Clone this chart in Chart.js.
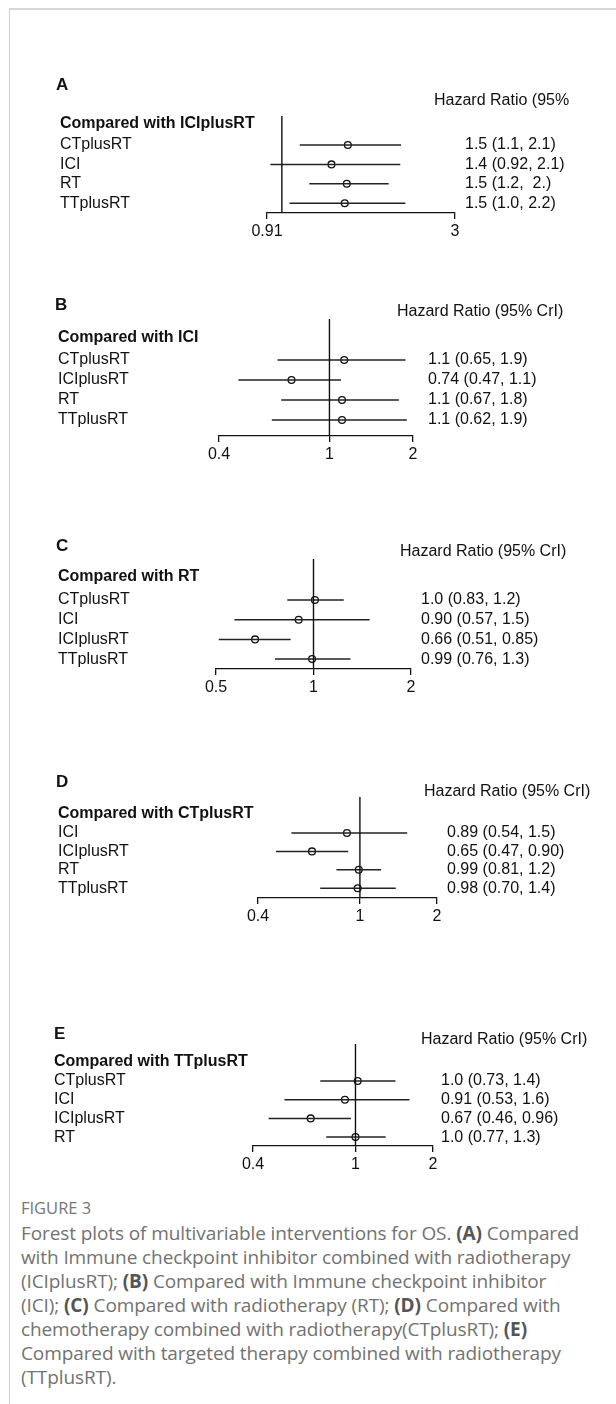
<!DOCTYPE html>
<html lang="en">
<head>
<meta charset="UTF-8" />
<title>Figure 3 - forest plots</title>
<script src="https://cdn.jsdelivr.net/npm/chart.js@4.4.0/dist/chart.umd.min.js"></script>
<style>
*{box-sizing:border-box}
body{margin:0;background:#fff}
#page{position:relative;width:616px;height:1404px;overflow:hidden;background:#fff}
#frame{position:absolute;left:9px;top:8px;right:-2px;bottom:-2px;border-top:2px solid #d6d6d6;border-left:1px solid #cfcfcf}
canvas{position:absolute;left:0}
#cap{position:absolute;left:21px;top:1196px;font-family:"Open Sans",sans-serif;color:#727272}
#cap .fig{font-size:16.5px;line-height:24px;color:#777}
#cap .txt{font-size:19px;line-height:24px;margin-top:1px;white-space:nowrap;letter-spacing:-.1px}
#cap b{font-weight:700;color:#555}
</style>
</head>
<body>
<div id="page">
  <div id="frame"></div>
  <div id="cap">
    <div class="fig">FIGURE 3</div>
    <div class="txt">Forest plots of multivariable interventions for OS. <b>(A)</b> Compared<br>with Immune checkpoint inhibitor combined with radiotherapy<br>(ICIplusRT); <b>(B)</b> Compared with Immune checkpoint inhibitor<br>(ICI); <b>(C)</b> Compared with radiotherapy (RT); <b>(D)</b> Compared with<br>chemotherapy combined with radiotherapy(CTplusRT); <b>(E)</b><br>Compared with targeted therapy combined with radiotherapy<br>(TTplusRT).</div>
  </div>
</div>

<script>
/* ---------- data ---------- */
const letters  = ['A','B','C','D','E'];
const refArms  = ['ICIplusRT','ICI','RT','CTplusRT','TTplusRT'];
const hrTitles = ['Hazard Ratio (95%','Hazard Ratio (95% CrI)','Hazard Ratio (95% CrI)','Hazard Ratio (95% CrI)','Hazard Ratio (95% CrI)'];

// A: compared with ICIplusRT
const armsA = ['CTplusRT','ICI','RT','TTplusRT'];
const hrA   = [1.52, 1.37, 1.51, 1.49];
const loA   = [1.12, 0.93, 1.19, 1.05];
const hiA   = [2.13, 2.12, 1.97, 2.19];
const txtA  = ['1.5 (1.1, 2.1)','1.4 (0.92, 2.1)','1.5 (1.2,  2.)','1.5 (1.0, 2.2)'];
const tickA = [0.91, 3];
const tlabA = ['0.91','3'];

// B: compared with ICI
const armsB = ['CTplusRT','ICIplusRT','RT','TTplusRT'];
const hrB   = [1.13, 0.73, 1.11, 1.11];
const loB   = [0.65, 0.47, 0.67, 0.62];
const hiB   = [1.88, 1.10, 1.78, 1.90];
const txtB  = ['1.1 (0.65, 1.9)','0.74 (0.47, 1.1)','1.1 (0.67, 1.8)','1.1 (0.62, 1.9)'];
const tickB = [0.4, 1, 2];
const tlabB = ['0.4','1','2'];

// C: compared with RT
const armsC = ['CTplusRT','ICI','ICIplusRT','TTplusRT'];
const hrC   = [1.01, 0.90, 0.66, 0.99];
const loC   = [0.83, 0.57, 0.51, 0.76];
const hiC   = [1.24, 1.49, 0.85, 1.30];
const txtC  = ['1.0 (0.83, 1.2)','0.90 (0.57, 1.5)','0.66 (0.51, 0.85)','0.99 (0.76, 1.3)'];
const tickC = [0.5, 1, 2];
const tlabC = ['0.5','1','2'];

// D: compared with CTplusRT
const armsD = ['ICI','ICIplusRT','RT','TTplusRT'];
const hrD   = [0.89, 0.65, 0.99, 0.98];
const loD   = [0.54, 0.47, 0.81, 0.70];
const hiD   = [1.53, 0.90, 1.21, 1.38];
const txtD  = ['0.89 (0.54, 1.5)','0.65 (0.47, 0.90)','0.99 (0.81, 1.2)','0.98 (0.70, 1.4)'];
const tickD = [0.4, 1, 2];
const tlabD = ['0.4','1','2'];

// E: compared with TTplusRT
const armsE = ['CTplusRT','ICI','ICIplusRT','RT'];
const hrE   = [1.02, 0.91, 0.67, 1.00];
const loE   = [0.73, 0.53, 0.46, 0.77];
const hiE   = [1.43, 1.62, 0.96, 1.31];
const txtE  = ['1.0 (0.73, 1.4)','0.91 (0.53, 1.6)','0.67 (0.46, 0.96)','1.0 (0.77, 1.3)'];
const tickE = [0.4, 1, 2];
const tlabE = ['0.4','1','2'];

/* ---------- layout (pixels on the page) ---------- */
const LAYOUT = [
  {top:70,  letX:56, letY:85,   hrX:434, hrY:101,  headY:124,  labX:60, valX:465, lineTop:116,  row1:145,  step:19.4, axisY:213,  axL:267, axR:455},
  {top:290, letX:55, letY:305,  hrX:397, hrY:312,  headY:338,  labX:58, valX:428, lineTop:319,  row1:360,  step:20,   axisY:436,  axL:219, axR:413},
  {top:530, letX:56, letY:546,  hrX:400, hrY:552,  headY:577,  labX:58, valX:421, lineTop:559,  row1:600,  step:19.7, axisY:669,  axL:216, axR:411},
  {top:765, letX:56, letY:782,  hrX:424, hrY:792,  headY:814,  labX:58, valX:447, lineTop:797,  row1:833,  step:18.4, axisY:898,  axL:258, axR:437},
  {top:1018,letX:54, letY:1034, hrX:421, hrY:1040, headY:1062, labX:54, valX:441, lineTop:1044, row1:1081, step:18.7, axisY:1146, axL:253, axR:433}
];

const panels = [
  {arms:armsA,hr:hrA,lo:loA,hi:hiA,txt:txtA,ticks:tickA,tlab:tlabA},
  {arms:armsB,hr:hrB,lo:loB,hi:hiB,txt:txtB,ticks:tickB,tlab:tlabB},
  {arms:armsC,hr:hrC,lo:loC,hi:hiC,txt:txtC,ticks:tickC,tlab:tlabC},
  {arms:armsD,hr:hrD,lo:loD,hi:hiD,txt:txtD,ticks:tickD,tlab:tlabD},
  {arms:armsE,hr:hrE,lo:loE,hi:hiE,txt:txtE,ticks:tickE,tlab:tlabE}
];

const FONT = '"Liberation Sans", Arial, sans-serif';
const AXIS_H = 34;
const page = document.getElementById('page');

panels.forEach((d,i)=>drawPanel(d, LAYOUT[i], i));

function drawPanel(d, L, idx){
  const cv = document.createElement('canvas');
  cv.width = 616;
  cv.height = L.axisY - L.top + AXIS_H;
  cv.style.top = L.top + 'px';
  page.appendChild(cv);

  // y range in row units so that rows land where they sit in the figure
  const yMin = 1 - (L.row1 - L.lineTop) / L.step;
  const yMax = 1 + (L.axisY - L.row1) / L.step;

  const ds = [];
  // reference line at HR = 1
  ds.push({type:'line',data:[{x:1,y:yMin},{x:1,y:yMax}],borderColor:'#111',borderWidth:1.4,pointRadius:0,clip:false});
  // credible intervals
  d.lo.forEach((lo,k)=>ds.push({type:'line',data:[{x:lo,y:k+1},{x:d.hi[k],y:k+1}],
    borderColor:'#222',borderWidth:1.5,pointRadius:0,clip:false}));
  // point estimates
  ds.push({type:'scatter',data:d.hr.map((v,k)=>({x:v,y:k+1})),pointStyle:'circle',pointRadius:3.4,
    pointBorderColor:'#111',pointBackgroundColor:'rgba(0,0,0,0)',pointBorderWidth:1.3,clip:false});

  const textPlugin = {
    id:'forestText'+idx,
    afterDraw(chart){
      const c = chart.ctx, ys = chart.scales.y;
      c.save();
      c.fillStyle = '#111';
      c.textBaseline = 'middle';
      c.textAlign = 'left';
      c.font = 'bold 17px ' + FONT;
      c.fillText(letters[idx], L.letX, L.letY - L.top);
      c.font = '16px ' + FONT;
      c.fillText(hrTitles[idx], L.hrX, L.hrY - L.top);
      c.font = 'bold 16px ' + FONT;
      c.fillText('Compared with ' + refArms[idx], L.labX, L.headY - L.top);
      c.font = '16px ' + FONT;
      d.arms.forEach((a,k)=>{
        const y = ys.getPixelForValue(k+1);
        c.fillText(a, L.labX, y);
        c.fillText(d.txt[k], L.valX, y);
      });
      c.restore();
    }
  };

  new Chart(cv, {
    type:'scatter',
    data:{datasets:ds},
    options:{
      responsive:false,
      animation:false,
      devicePixelRatio:1,
      layout:{padding:{left:L.axL,right:616-L.axR,top:L.lineTop-L.top,bottom:0}},
      plugins:{legend:{display:false},tooltip:{enabled:false}},
      scales:{
        x:{
          type:'logarithmic',
          min:d.ticks[0],
          max:d.ticks[d.ticks.length-1],
          afterBuildTicks:s=>{s.ticks = d.ticks.map(v=>({value:v}));},
          afterFit:s=>{s.height = AXIS_H;},
          grid:{display:true,drawOnChartArea:false,drawTicks:true,tickLength:6,color:'#111',lineWidth:1.3},
          border:{display:true,color:'#111',width:1.3},
          ticks:{autoSkip:false,maxRotation:0,padding:3,color:'#111',
                 font:{family:FONT,size:16},
                 callback:(v,i)=>d.tlab[i]}
        },
        y:{type:'linear',display:false,reverse:true,min:yMin,max:yMax}
      }
    },
    plugins:[textPlugin]
  });
}
</script>
</body>
</html>
